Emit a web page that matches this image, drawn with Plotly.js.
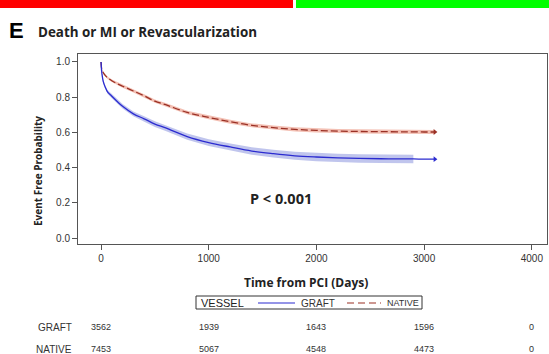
<!DOCTYPE html>
<html>
<head>
<meta charset="utf-8">
<script src="https://cdn.plot.ly/plotly-3.0.1.min.js"></script>
<style>html,body{margin:0;padding:0;background:#fff;}#chart{width:549px;height:354px;}</style>
</head>
<body>
<div id="chart"></div>
<script>
// ---- data ----
const days = [0, 5, 10, 20, 40, 60, 100, 150, 200, 300, 400, 500, 600, 800, 1000, 1200, 1400, 1600, 1800, 2000, 2200, 2400, 2600, 2800, 2900, 3000, 3100];
const graft = [1.0, 0.95, 0.925, 0.89, 0.855, 0.83, 0.805, 0.775, 0.748, 0.705, 0.677, 0.647, 0.625, 0.576, 0.542, 0.517, 0.494, 0.479, 0.467, 0.460, 0.455, 0.452, 0.450, 0.449, 0.449, 0.448, 0.448];
const graftLo = [1.0, 0.944, 0.917, 0.881, 0.845, 0.819, 0.793, 0.762, 0.735, 0.691, 0.662, 0.631, 0.608, 0.558, 0.523, 0.497, 0.473, 0.457, 0.444, 0.436, 0.431, 0.428, 0.426, 0.425, 0.425, null, null];
const graftHi = [1.0, 0.956, 0.933, 0.899, 0.865, 0.841, 0.817, 0.788, 0.761, 0.719, 0.692, 0.663, 0.642, 0.594, 0.561, 0.537, 0.515, 0.501, 0.490, 0.484, 0.479, 0.476, 0.474, 0.473, 0.473, null, null];
const native = [1.0, 0.965, 0.955, 0.94, 0.922, 0.91, 0.893, 0.876, 0.862, 0.835, 0.808, 0.777, 0.757, 0.713, 0.685, 0.660, 0.640, 0.627, 0.617, 0.611, 0.607, 0.605, 0.604, 0.603, 0.603, 0.602, 0.602];
const nativeLo = [1.0, 0.961, 0.950, 0.934, 0.915, 0.903, 0.886, 0.868, 0.854, 0.826, 0.799, 0.768, 0.747, 0.703, 0.675, 0.649, 0.629, 0.615, 0.605, 0.599, 0.595, 0.593, 0.592, 0.591, 0.591, 0.590, 0.590];
const nativeHi = [1.0, 0.969, 0.960, 0.946, 0.929, 0.917, 0.900, 0.884, 0.870, 0.844, 0.817, 0.786, 0.767, 0.723, 0.695, 0.671, 0.651, 0.639, 0.629, 0.623, 0.619, 0.617, 0.616, 0.615, 0.615, 0.614, 0.614];

const xTicks = [0, 1000, 2000, 3000, 4000];
const yTicks = [0.0, 0.2, 0.4, 0.6, 0.8, 1.0];
const yTickText = ['0.0', '0.2', '0.4', '0.6', '0.8', '1.0'];
const riskTimes = [0, 1000, 2000, 3000, 4000];
const riskGraft = ['3562', '1939', '1643', '1596', '0'];
const riskNative = ['7453', '5067', '4548', '4473', '0'];

// ---- layout helpers (pixel -> paper) ----
const L = 78, R = 547, T = 54, B = 244;
const px = x => (x - L) / (R - L);
const py = y => (B - y) / (B - T);

const blue = '#2b2bd0', red = '#9a3025';
const bandBlue = 'rgba(150,158,225,0.6)', bandRed = 'rgba(235,150,130,0.6)';

function band(lo, hi, color) {
  const xs = [], ys = [];
  for (let i = 0; i < days.length; i++) if (lo[i] !== null) { xs.push(days[i]); ys.push(lo[i]); }
  for (let i = days.length - 1; i >= 0; i--) if (hi[i] !== null) { xs.push(days[i]); ys.push(hi[i]); }
  return {x: xs, y: ys, type: 'scatter', mode: 'lines', fill: 'toself', fillcolor: color,
          line: {width: 0}, hoverinfo: 'skip', showlegend: false};
}

const lastIdx = days.length - 1;
const traces = [
  band(nativeLo, nativeHi, bandRed),
  band(graftLo, graftHi, bandBlue),
  {x: days, y: native, type: 'scatter', mode: 'lines', name: 'NATIVE', line: {color: red, width: 1.3, dash: '7px,3px', shape: 'spline'}, showlegend: false},
  {x: days, y: graft, type: 'scatter', mode: 'lines', name: 'GRAFT', line: {color: blue, width: 1.3, shape: 'spline'}, showlegend: false},
  {x: [days[lastIdx]], y: [native[lastIdx]], type: 'scatter', mode: 'markers', marker: {symbol: 'triangle-right', size: 5, color: red}, showlegend: false},
  {x: [days[lastIdx]], y: [graft[lastIdx]], type: 'scatter', mode: 'markers', marker: {symbol: 'triangle-right', size: 5, color: blue}, showlegend: false}
];

const annotations = [
  {text: '<b>E</b>', xref: 'paper', yref: 'paper', x: px(7), y: py(30), xanchor: 'left', yanchor: 'middle', showarrow: false, font: {family: 'Liberation Sans, Arial', size: 22, color: '#000'}},
  {text: '<b>Death or MI or Revascularization</b>', xref: 'paper', yref: 'paper', x: px(36), y: py(32), xanchor: 'left', yanchor: 'middle', showarrow: false, font: {family: 'Open Sans, sans-serif', size: 13.4, color: '#222'}},
  {text: '<b>Event Free Probability</b>', xref: 'paper', yref: 'paper', x: px(38), y: py(171), textangle: -90, xanchor: 'center', yanchor: 'middle', showarrow: false, font: {family: 'Open Sans, sans-serif', size: 10, color: '#222'}},
  {text: '<b>P < 0.001</b>', xref: 'paper', yref: 'paper', x: px(281), y: py(198), xanchor: 'center', yanchor: 'middle', showarrow: false, font: {family: 'Open Sans, sans-serif', size: 14.5, color: '#222'}},
  {text: '<b>Time from PCI (Days)</b>', xref: 'paper', yref: 'paper', x: px(306), y: py(282), xanchor: 'center', yanchor: 'middle', showarrow: false, font: {family: 'Open Sans, sans-serif', size: 12, color: '#222'}},
  // legend texts
  {text: 'VESSEL', xref: 'paper', yref: 'paper', x: px(199), y: py(303), xanchor: 'left', yanchor: 'middle', showarrow: false, font: {family: 'Liberation Sans, Arial', size: 11, color: '#222'}},
  {text: 'GRAFT', xref: 'paper', yref: 'paper', x: px(299), y: py(303), xanchor: 'left', yanchor: 'middle', showarrow: false, font: {family: 'Liberation Sans, Arial', size: 10, color: '#333'}},
  {text: 'NATIVE', xref: 'paper', yref: 'paper', x: px(385), y: py(303), xanchor: 'left', yanchor: 'middle', showarrow: false, font: {family: 'Liberation Sans, Arial', size: 9, color: '#333'}},
  // risk table row labels
  {text: 'GRAFT', xref: 'paper', yref: 'paper', x: px(74), y: py(327), xanchor: 'right', yanchor: 'middle', showarrow: false, font: {family: 'Liberation Sans, Arial', size: 10, color: '#333'}},
  {text: 'NATIVE', xref: 'paper', yref: 'paper', x: px(74), y: py(349), xanchor: 'right', yanchor: 'middle', showarrow: false, font: {family: 'Liberation Sans, Arial', size: 10, color: '#333'}}
];
riskTimes.forEach((t, i) => {
  annotations.push({text: riskGraft[i], xref: 'x', yref: 'paper', x: t, y: py(327), xanchor: 'center', yanchor: 'middle', showarrow: false, font: {family: 'Liberation Sans, Arial', size: 9, color: '#333'}});
  annotations.push({text: riskNative[i], xref: 'x', yref: 'paper', x: t, y: py(349), xanchor: 'center', yanchor: 'middle', showarrow: false, font: {family: 'Liberation Sans, Arial', size: 9, color: '#333'}});
});

const shapes = [
  {type: 'rect', xref: 'paper', yref: 'paper', x0: px(0), x1: px(293), y0: py(0), y1: py(8), fillcolor: '#ff0000', line: {width: 0}},
  {type: 'rect', xref: 'paper', yref: 'paper', x0: px(296), x1: px(549), y0: py(0), y1: py(8), fillcolor: '#00ff00', line: {width: 0}},
  // legend box and keys
  {type: 'rect', xref: 'paper', yref: 'paper', x0: px(196), x1: px(422), y0: py(296), y1: py(309), fillcolor: 'rgba(0,0,0,0)', line: {color: '#333', width: 1}},
  {type: 'line', xref: 'paper', yref: 'paper', x0: px(258), x1: px(295), y0: py(303), y1: py(303), line: {color: blue, width: 1.2}},
  {type: 'line', xref: 'paper', yref: 'paper', x0: px(347), x1: px(381), y0: py(303), y1: py(303), line: {color: red, width: 1.2, dash: '7px,4px'}}
];

const layout = {
  width: 549, height: 354,
  margin: {l: L, r: 549 - R, t: T, b: 354 - B, pad: 0},
  paper_bgcolor: '#fff', plot_bgcolor: '#fff',
  showlegend: false,
  xaxis: {range: [-214, 4141], tickvals: xTicks, ticktext: xTicks.map(String), ticks: 'outside', ticklen: 5, tickcolor: '#555',
          showline: true, mirror: true, linecolor: '#555', linewidth: 1, showgrid: false, zeroline: false,
          tickfont: {family: 'Liberation Sans, Arial', size: 10, color: '#333'}},
  yaxis: {range: [-0.034, 1.045], tickvals: yTicks, ticktext: yTickText, ticks: 'outside', ticklen: 5, tickcolor: '#555',
          showline: true, mirror: true, linecolor: '#555', linewidth: 1, showgrid: false, zeroline: false,
          tickfont: {family: 'Liberation Sans, Arial', size: 10, color: '#333'}},
  annotations: annotations,
  shapes: shapes
};

Plotly.newPlot('chart', traces, layout, {staticPlot: true, displayModeBar: false});
</script>
</body>
</html>
